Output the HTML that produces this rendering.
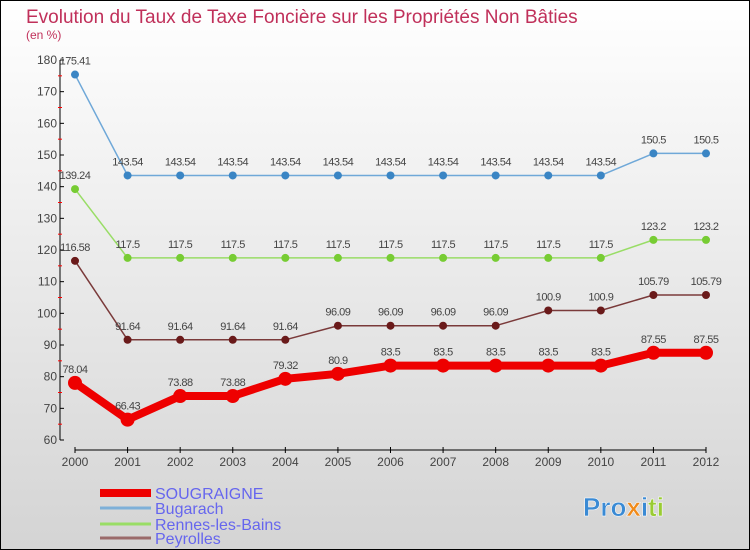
<!DOCTYPE html>
<html><head><meta charset="utf-8"><style>
body{margin:0}
svg{display:block;font-family:"Liberation Sans",sans-serif}
</style></head><body>
<svg id="c" width="750" height="550" xmlns="http://www.w3.org/2000/svg">
<defs><linearGradient id="bg" x1="0" y1="0" x2="0" y2="1"><stop offset="0" stop-color="#ffffff"/><stop offset="1" stop-color="#d4d4d4"/></linearGradient></defs>
<rect x="0.5" y="0.5" width="749" height="549" fill="url(#bg)" stroke="#000"/>
<text x="26" y="23" font-size="19" fill="#c0305a">Evolution du Taux de Taxe Foncière sur les Propriétés Non Bâties</text>
<text x="26" y="39" font-size="12" fill="#c0305a">(en %)</text>
<g id="axes"></g><g id="series"></g><g id="legend"></g>
<text x="583" y="516" font-size="26" font-weight="bold" stroke="#ffffff" stroke-width="0.5"><tspan fill="#3a8ad4">Pro</tspan><tspan fill="#f08a1a">x</tspan><tspan fill="#3a8ad4">i</tspan><tspan fill="#9acc33">ti</tspan></text>
</svg>
<script>
const years=[2000,2001,2002,2003,2004,2005,2006,2007,2008,2009,2010,2011,2012];
const yTicks=[60,70,80,90,100,110,120,130,140,150,160,170,180];
const sougraigne=[78.04,66.43,73.88,73.88,79.32,80.9,83.5,83.5,83.5,83.5,83.5,87.55,87.55];
const bugarach=[175.41,143.54,143.54,143.54,143.54,143.54,143.54,143.54,143.54,143.54,143.54,150.5,150.5];
const rennes=[139.24,117.5,117.5,117.5,117.5,117.5,117.5,117.5,117.5,117.5,117.5,123.2,123.2];
const peyrolles=[116.58,91.64,91.64,91.64,91.64,96.09,96.09,96.09,96.09,100.9,100.9,105.79,105.79];
const names=["SOUGRAIGNE","Bugarach","Rennes-les-Bains","Peyrolles"];
const NS="http://www.w3.org/2000/svg";
const X=i=>75+i*(706-75)/(years.length-1);
const Y=v=>440-(v-60)*(380/120);
function mk(p,t,a){const e=document.createElementNS(NS,t);for(const k in a)e.setAttribute(k,a[k]);p.appendChild(e);return e;}
const ax=document.getElementById('axes');
const yl=mk(ax,'line',{x1:60,y1:Y(180),x2:60,y2:Y(60),stroke:'#000'});


yTicks.forEach(t=>{
 mk(ax,'line',{x1:60,x2:64,y1:Y(t),y2:Y(t),stroke:'#000'});
 if(t<180)mk(ax,'line',{x1:58,x2:62,y1:Y(t+5),y2:Y(t+5),stroke:'#f00'});
 const tx=mk(ax,'text',{x:57,y:Y(t)+4,'text-anchor':'end','font-size':12,fill:'#444'});tx.textContent=t;
 
 
});
const xl=mk(ax,'line',{x1:X(0),x2:X(12),y1:450,y2:450,stroke:'#000'});


years.forEach((y,i)=>{
 mk(ax,'line',{x1:X(i),x2:X(i),y1:447,y2:453,stroke:'#000'});
 const tx=mk(ax,'text',{x:X(i),y:466,'text-anchor':'middle','font-size':12,fill:'#444'});tx.textContent=y;
 
 
});
const sg=document.getElementById('series');
function series(data,color,dot,lw,r,name){
 const g=mk(sg,'g',{});
 
 
 mk(g,'polyline',{points:data.map((v,i)=>X(i)+','+Y(v)).join(' '),fill:'none',stroke:color,'stroke-width':lw,'stroke-linejoin':'round'});
 data.forEach((v,i)=>{
  const c=mk(g,'circle',{cx:X(i),cy:Y(v),r:r,fill:dot});
  
  
  const t=mk(g,'text',{x:X(i),y:Y(v)-10,'text-anchor':'middle','font-size':11,fill:'#444','letter-spacing':'-0.5'});t.textContent=v;
  
  
 });
}
series(bugarach,'#6fa8d8','#3a85c4',1.5,4,'bugarach');
series(rennes,'#99dd66','#77cc33',1.5,4,'rennes-les-bains');
series(peyrolles,'#7a3a3a','#6a1a1a',1.5,4,'peyrolles');
series(sougraigne,'#ee0000','#ee0000',8,7,'sougraigne');
const lg=document.getElementById('legend');
const lc=['#ee0000','#7eb0d8','#99dd66','#9a6a6a'],lw=[8,3,3,3],ly=[493,508,524,538];
names.forEach((n,i)=>{
 const g=mk(lg,'g',{});
 
 
 mk(g,'line',{x1:100,x2:151,y1:ly[i],y2:ly[i],stroke:lc[i],'stroke-width':lw[i]});
 const t=mk(g,'text',{x:155,y:ly[i]+6,'font-size':16,fill:'#6666ee'});t.textContent=n;
});
</script>
</body></html>
